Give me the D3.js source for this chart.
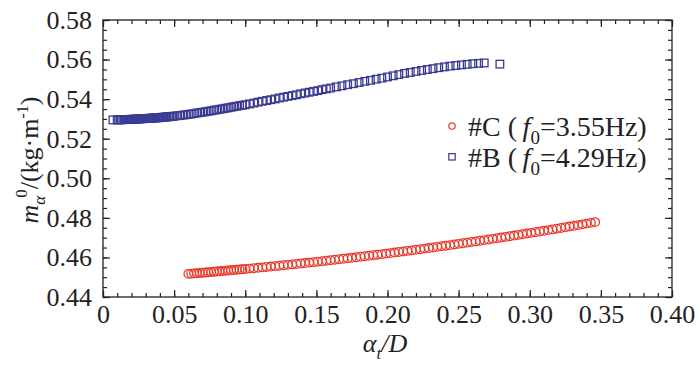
<!DOCTYPE html>
<html>
<head>
<meta charset="utf-8">
<script src="https://cdn.jsdelivr.net/npm/d3@7"></script>
<style>
  body { margin: 0; background: #fff; }
  text { font-family: "Liberation Serif", "Times New Roman", serif; fill: #222; }
</style>
</head>
<body>
<div id="chart"></div>
<script>
// axis ticks
const xTicks = [0, 0.05, 0.10, 0.15, 0.20, 0.25, 0.30, 0.35, 0.40];
const xTickLabels = ['0', '0.05', '0.10', '0.15', '0.20', '0.25', '0.30', '0.35', '0.40'];
const yTicks = [0.44, 0.46, 0.48, 0.50, 0.52, 0.54, 0.56, 0.58];
const yTickLabels = ['0.44', '0.46', '0.48', '0.50', '0.52', '0.54', '0.56', '0.58'];

// #C (f0 = 3.55 Hz) - circles, [at/D, m]
const seriesC = [
  [0.060,0.45170],[0.062,0.45181],[0.064,0.45193],[0.066,0.45204],[0.068,0.45216],
  [0.070,0.45228],[0.072,0.45240],[0.074,0.45252],[0.076,0.45264],[0.078,0.45276],
  [0.080,0.45288],[0.082,0.45300],[0.084,0.45313],[0.086,0.45325],[0.088,0.45338],
  [0.090,0.45351],[0.092,0.45364],[0.094,0.45376],[0.096,0.45390],[0.098,0.45403],
  [0.100,0.45416],[0.103,0.45436],[0.106,0.45456],[0.109,0.45476],[0.112,0.45497],
  [0.115,0.45518],[0.118,0.45539],[0.121,0.45560],[0.124,0.45582],[0.127,0.45604],
  [0.130,0.45626],[0.133,0.45648],[0.136,0.45670],[0.139,0.45693],[0.142,0.45716],
  [0.145,0.45739],[0.148,0.45762],[0.151,0.45786],[0.154,0.45810],[0.157,0.45834],
  [0.160,0.45858],[0.163,0.45882],[0.166,0.45907],[0.169,0.45932],[0.172,0.45957],
  [0.175,0.45982],[0.178,0.46008],[0.181,0.46034],[0.184,0.46060],[0.187,0.46086],
  [0.190,0.46112],[0.193,0.46139],[0.196,0.46166],[0.199,0.46193],[0.202,0.46220],
  [0.205,0.46247],[0.208,0.46275],[0.211,0.46303],[0.214,0.46331],[0.217,0.46359],
  [0.220,0.46388],[0.223,0.46417],[0.226,0.46446],[0.229,0.46475],[0.232,0.46504],
  [0.235,0.46534],[0.238,0.46564],[0.241,0.46594],[0.244,0.46624],[0.247,0.46655],
  [0.250,0.46686],[0.253,0.46717],[0.256,0.46748],[0.259,0.46779],[0.262,0.46811],
  [0.265,0.46843],[0.268,0.46875],[0.271,0.46907],[0.274,0.46939],[0.277,0.46972],
  [0.280,0.47005],[0.283,0.47038],[0.286,0.47071],[0.289,0.47105],[0.292,0.47139],
  [0.295,0.47173],[0.298,0.47207],[0.301,0.47241],[0.304,0.47276],[0.307,0.47311],
  [0.310,0.47346],[0.313,0.47381],[0.316,0.47417],[0.319,0.47453],[0.322,0.47489],
  [0.325,0.47525],[0.328,0.47561],[0.331,0.47598],[0.334,0.47635],[0.337,0.47672],
  [0.340,0.47709],[0.343,0.47747],[0.346,0.47785]
];

// #B (f0 = 4.29 Hz) - squares
const seriesB = [
  [0.007,0.5295],
  [0.010,0.5295],[0.011,0.5295],[0.012,0.5296],[0.013,0.5296],[0.014,0.5296],
  [0.015,0.5297],[0.016,0.5297],[0.017,0.5297],[0.018,0.5297],[0.019,0.5298],
  [0.020,0.5298],[0.021,0.5298],[0.022,0.5299],[0.023,0.5299],[0.024,0.5300],
  [0.025,0.5300],[0.026,0.5300],[0.027,0.5301],[0.028,0.5301],[0.029,0.5302],
  [0.030,0.5302],[0.031,0.5302],[0.032,0.5303],[0.033,0.5303],[0.034,0.5304],
  [0.035,0.5304],[0.036,0.5305],[0.037,0.5305],[0.038,0.5306],[0.039,0.5306],
  [0.040,0.5307],[0.041,0.5308],[0.042,0.5308],[0.043,0.5309],[0.044,0.5310],
  [0.045,0.5310],[0.046,0.5311],[0.047,0.5312],[0.048,0.5312],[0.049,0.5313],
  [0.050,0.5314],[0.052,0.5316],[0.054,0.5317],[0.056,0.5319],[0.058,0.5321],
  [0.060,0.5323],[0.062,0.5325],[0.064,0.5327],[0.066,0.5330],[0.068,0.5332],
  [0.070,0.5334],[0.072,0.5336],[0.074,0.5339],[0.076,0.5341],[0.078,0.5344],
  [0.080,0.5346],[0.082,0.5349],[0.084,0.5351],[0.086,0.5354],[0.088,0.5356],
  [0.090,0.5359],[0.092,0.5362],[0.094,0.5364],[0.096,0.5367],[0.098,0.5369],
  [0.100,0.5372],[0.103,0.5376],[0.106,0.5380],[0.109,0.5385],[0.112,0.5389],
  [0.115,0.5393],[0.118,0.5397],[0.121,0.5401],[0.124,0.5406],[0.127,0.5410],
  [0.130,0.5414],[0.133,0.5418],[0.136,0.5422],[0.139,0.5427],[0.142,0.5431],
  [0.145,0.5435],[0.148,0.5439],[0.151,0.5443],[0.154,0.5448],[0.157,0.5452],
  [0.160,0.5456],[0.164,0.5462],[0.168,0.5467],[0.172,0.5473],[0.176,0.5478],
  [0.180,0.5484],[0.184,0.5490],[0.188,0.5495],[0.192,0.5501],[0.196,0.5506],
  [0.200,0.5512],[0.204,0.5518],[0.208,0.5524],[0.212,0.5530],[0.216,0.5535],
  [0.220,0.5540],[0.224,0.5545],[0.228,0.5550],[0.232,0.5554],[0.236,0.5559],
  [0.240,0.5563],[0.244,0.5567],[0.248,0.5570],[0.252,0.5573],[0.256,0.5576],
  [0.260,0.5579],[0.264,0.5581],[0.268,0.5583],[0.279,0.5577]
];

const width = 700, height = 370;
const plotLeft = 103, plotRight = 672, plotTop = 20, plotBottom = 297;
const red = '#e8392b', navy = '#3a3a92';

const svg = d3.select('#chart').append('svg')
  .attr('width', width)
  .attr('height', height);

const x = d3.scaleLinear().domain([0, 0.40]).range([plotLeft, plotRight]);
const y = d3.scaleLinear().domain([0.44, 0.58]).range([plotBottom, plotTop]);

const xMinor = d3.range(0, 0.4001, 0.01);
const yMinor = d3.range(0.44, 0.5801, 0.005);

// minor ticks on all four sides
const minor = (axis, tr) => svg.append('g').attr('transform', tr)
  .call(axis.tickFormat('').tickSizeOuter(0))
  .call(g => g.select('.domain').remove())
  .call(g => g.selectAll('line').attr('stroke', '#222').attr('stroke-width', 1.2));
minor(d3.axisBottom(x).tickValues(xMinor).tickSizeInner(-4), `translate(0,${plotBottom})`);
minor(d3.axisTop(x).tickValues(xMinor).tickSizeInner(-4), `translate(0,${plotTop})`);
minor(d3.axisLeft(y).tickValues(yMinor).tickSizeInner(-4), `translate(${plotLeft},0)`);
minor(d3.axisRight(y).tickValues(yMinor).tickSizeInner(-4), `translate(${plotRight},0)`);

// major ticks
const major = (axis, tr, labels) => {
  const g = svg.append('g').attr('transform', tr)
    .call(axis.tickSizeOuter(0).tickPadding(10))
    .call(g => g.select('.domain').remove())
    .call(g => g.selectAll('line').attr('stroke', '#222').attr('stroke-width', 1.2));
  g.selectAll('text').attr('font-size', 26).attr('fill', '#222')
    .style('font-family', '"Liberation Serif", serif');
  if (!labels) g.selectAll('text').remove();
  return g;
};
major(d3.axisBottom(x).tickValues(xTicks).tickSizeInner(-7)
  .tickFormat((d, i) => xTickLabels[i]), `translate(0,${plotBottom})`, true)
  .selectAll('text').attr('dy', '0.78em').attr('y', 6);
major(d3.axisTop(x).tickValues(xTicks).tickSizeInner(-7), `translate(0,${plotTop})`, false);
major(d3.axisLeft(y).tickValues(yTicks).tickSizeInner(-7)
  .tickFormat((d, i) => yTickLabels[i]), `translate(${plotLeft},0)`, true)
  .selectAll('text').attr('x', -11);
major(d3.axisRight(y).tickValues(yTicks).tickSizeInner(-7), `translate(${plotRight},0)`, false);

// frame
svg.append('rect')
  .attr('x', plotLeft).attr('y', plotTop)
  .attr('width', plotRight - plotLeft).attr('height', plotBottom - plotTop)
  .attr('fill', 'none').attr('stroke', '#222').attr('stroke-width', 1.3);

// data marks
svg.append('g').selectAll('rect')
  .data(seriesB).enter().append('rect')
  .attr('x', d => x(d[0]) - 3.8).attr('y', d => y(d[1]) - 3.8)
  .attr('width', 7.6).attr('height', 7.6)
  .attr('fill', 'none').attr('stroke', navy).attr('stroke-width', 1.3);

svg.append('g').selectAll('circle')
  .data(seriesC).enter().append('circle')
  .attr('cx', d => x(d[0])).attr('cy', d => y(d[1]))
  .attr('r', 4.3)
  .attr('fill', 'none').attr('stroke', red).attr('stroke-width', 1.3);

// legend
const legend = svg.append('g');
legend.append('circle').attr('cx', 452).attr('cy', 126).attr('r', 3.2)
  .attr('fill', 'none').attr('stroke', red).attr('stroke-width', 1.2);
legend.append('rect').attr('x', 448.8).attr('y', 153.6).attr('width', 6.4).attr('height', 6.4)
  .attr('fill', 'none').attr('stroke', navy).attr('stroke-width', 1.2);
const legText = (ty, name, freq) => {
  const t = legend.append('text').attr('x', 468).attr('y', ty).attr('font-size', 28);
  t.append('tspan').text(name + ' (\u2009');
  t.append('tspan').attr('font-style', 'italic').text('f');
  t.append('tspan').attr('font-size', 19).attr('dy', 8).text('0');
  t.append('tspan').attr('dy', -8).text('=' + freq + 'Hz)');
};
legText(136, '#C', '3.55');
legText(167, '#B', '4.29');

// axis titles
const xt = svg.append('text').attr('x', 385).attr('y', 352)
  .attr('text-anchor', 'middle').attr('font-size', 26);
xt.append('tspan').attr('font-style', 'italic').text('\u03b1');
xt.append('tspan').attr('font-style', 'italic').attr('font-size', 17).attr('dy', 7).text('t');
xt.append('tspan').attr('font-style', 'italic').attr('dy', -7).text('/D');

const yt = svg.append('text')
  .attr('transform', 'translate(38,160) rotate(-90)')
  .attr('text-anchor', 'middle').attr('font-size', 26);
yt.append('tspan').attr('font-style', 'italic').text('m');
yt.append('tspan').attr('font-style', 'italic').attr('font-size', 17).attr('dy', 7).text('\u03b1');
yt.append('tspan').attr('font-size', 17).attr('dx', -2).attr('dy', -18).text('0');
yt.append('tspan').attr('dy', 11).text('/(kg\u00b7m');
yt.append('tspan').attr('font-size', 16).attr('dy', -10).text('-1');
yt.append('tspan').attr('dy', 10).text(')');
</script>
</body>
</html>
